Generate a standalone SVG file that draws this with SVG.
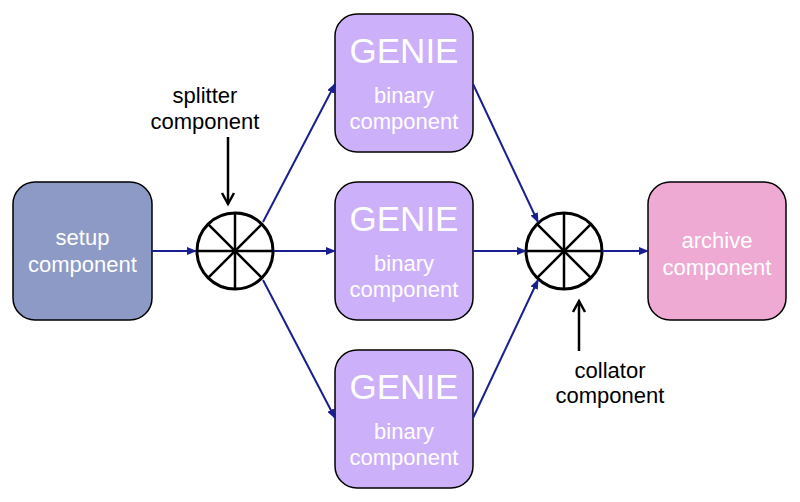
<svg xmlns="http://www.w3.org/2000/svg" width="800" height="502" viewBox="0 0 800 502">
<style>
.box{stroke:#000;stroke-width:1.5}
.wt{font-family:"Liberation Sans",Arial,sans-serif;fill:#fff;text-anchor:middle}
.bt{font-family:"Liberation Sans",Arial,sans-serif;fill:#000;text-anchor:middle;font-size:22px}
.conn{stroke:#1a1f8f;stroke-width:2;fill:none}
.ring{fill:#fff;stroke:#000;stroke-width:3}
.spoke{stroke:#000;stroke-width:2.5}
.pt{stroke:#000;stroke-width:2.5;fill:none}
</style>
<defs>
<marker id="ah" markerWidth="10" markerHeight="8" refX="9" refY="4" orient="auto" markerUnits="userSpaceOnUse">
<path d="M0,0 L10,4 L0,8 Z" fill="#1a1f8f"/>
</marker>
</defs>
<rect width="800" height="502" fill="#fff"/>
<g id="setup">
<rect class="box" x="13" y="182" width="139" height="138" rx="22" fill="#8d9ac5"/>
<text class="wt" x="82.5" y="245" font-size="22">setup</text>
<text class="wt" x="82.5" y="272" font-size="22">component</text>
</g>
<g id="genie1">
<rect class="box" x="335" y="14" width="138" height="138" rx="22" fill="#ccb0f9"/>
<text class="wt" x="404" y="63" font-size="35">GENIE</text>
<text class="wt" x="404" y="103" font-size="22">binary</text>
<text class="wt" x="404" y="129" font-size="22">component</text>
</g>
<g id="genie2">
<rect class="box" x="335" y="182" width="138" height="138" rx="22" fill="#ccb0f9"/>
<text class="wt" x="404" y="231" font-size="35">GENIE</text>
<text class="wt" x="404" y="271" font-size="22">binary</text>
<text class="wt" x="404" y="297" font-size="22">component</text>
</g>
<g id="genie3">
<rect class="box" x="335" y="350" width="138" height="138" rx="22" fill="#ccb0f9"/>
<text class="wt" x="404" y="399" font-size="35">GENIE</text>
<text class="wt" x="404" y="439" font-size="22">binary</text>
<text class="wt" x="404" y="465" font-size="22">component</text>
</g>
<g id="archive">
<rect class="box" x="648" y="182" width="138" height="138" rx="22" fill="#eeaad3"/>
<text class="wt" x="717" y="248" font-size="22">archive</text>
<text class="wt" x="717" y="275" font-size="22">component</text>
</g>
<g id="splitter">
<circle class="ring" cx="235" cy="251" r="38"/>
<line class="spoke" x1="197" y1="251" x2="273" y2="251"/>
<line class="spoke" x1="235" y1="213" x2="235" y2="289"/>
<line class="spoke" x1="208.1" y1="224.1" x2="261.9" y2="277.9"/>
<line class="spoke" x1="261.9" y1="224.1" x2="208.1" y2="277.9"/>
</g>
<g id="collator">
<circle class="ring" cx="564" cy="251" r="38"/>
<line class="spoke" x1="526" y1="251" x2="602" y2="251"/>
<line class="spoke" x1="564" y1="213" x2="564" y2="289"/>
<line class="spoke" x1="537.1" y1="224.1" x2="590.9" y2="277.9"/>
<line class="spoke" x1="590.9" y1="224.1" x2="537.1" y2="277.9"/>
</g>
<g id="splitter-label">
<text class="bt" x="205" y="103">splitter</text>
<text class="bt" x="205" y="129">component</text>
<line class="pt" x1="228" y1="137" x2="228" y2="204"/>
<polyline class="pt" points="222,193 228,204 234,193"/>
</g>
<g id="collator-label">
<text class="bt" x="610" y="378">collator</text>
<text class="bt" x="610" y="403">component</text>
<line class="pt" x1="579" y1="351" x2="579" y2="301"/>
<polyline class="pt" points="573,312 579,301 585,312"/>
</g>
<g id="connectors">
<line class="conn" x1="152" y1="251" x2="196" y2="251" marker-end="url(#ah)"/>
<line class="conn" x1="274" y1="251" x2="335" y2="251" marker-end="url(#ah)"/>
<line class="conn" x1="263" y1="222" x2="335" y2="84" marker-end="url(#ah)"/>
<line class="conn" x1="263" y1="280" x2="335" y2="418" marker-end="url(#ah)"/>
<line class="conn" x1="473" y1="84" x2="538" y2="222" marker-end="url(#ah)"/>
<line class="conn" x1="473" y1="251" x2="526" y2="251" marker-end="url(#ah)"/>
<line class="conn" x1="473" y1="418" x2="538" y2="280" marker-end="url(#ah)"/>
<line class="conn" x1="602" y1="251" x2="648" y2="251" marker-end="url(#ah)"/>
</g>
</svg>
